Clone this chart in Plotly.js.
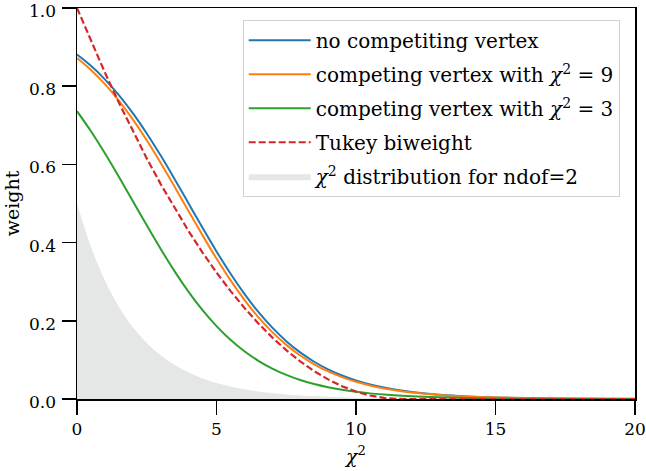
<!DOCTYPE html>
<html>
<head>
<meta charset="utf-8">
<script src="https://cdn.plot.ly/plotly-3.0.1.min.js"></script>
<style>html,body{margin:0;padding:0;background:#fff;}#chart{width:646px;height:471px;}</style>
</head>
<body>
<div id="chart"></div>
<script>
// chi^2 sample points
const chi2 = [0,0.5,1,1.5,2,2.5,3,3.5,4,4.5,5,5.5,6,6.5,7,7.5,8,8.5,9,9.5,10,10.5,11,11.5,12,13,14,15,16,17,18,19,20];
// no competing vertex
const wNoComp = [0.8808,0.8520,0.8176,0.7773,0.7311,0.6792,0.6225,0.5622,0.5000,0.4378,0.3775,0.3208,0.2689,0.2227,0.1824,0.1480,0.1192,0.0953,0.0759,0.0601,0.0474,0.0373,0.0293,0.0230,0.0180,0.0110,0.0067,0.0041,0.0025,0.0015,0.0009,0.00055,0.00034];
// competing vertex with chi2 = 9
const wComp9 = [0.8723,0.8417,0.8055,0.7633,0.7153,0.6618,0.6038,0.5427,0.4803,0.4185,0.3592,0.3039,0.2537,0.2094,0.1710,0.1384,0.1112,0.0888,0.0705,0.0558,0.0440,0.0346,0.0271,0.0213,0.0167,0.0102,0.0062,0.0038,0.0023,0.0014,0.00084,0.00051,0.00031];
// competing vertex with chi2 = 3
const wComp3 = [0.7361,0.6848,0.6285,0.5685,0.5065,0.4442,0.3837,0.3265,0.2741,0.2272,0.1863,0.1513,0.1220,0.0976,0.0777,0.0616,0.0486,0.0383,0.0301,0.0236,0.0185,0.0144,0.0113,0.0088,0.0069,0.0042,0.0025,0.0015,0.00094,0.00057,0.00034,0.00021,0.00013];
// Tukey biweight
const chi2Tukey = [0,0.5,1,1.5,2,2.5,3,3.5,4,4.5,5,5.5,6,6.5,7,7.5,8,8.5,9,9.5,10,10.5,11,11.5,11.6,12,20];
const wTukey = [1.0,0.9157,0.8350,0.7581,0.6849,0.6154,0.5496,0.4876,0.4293,0.3746,0.3237,0.2765,0.2331,0.1933,0.1573,0.1249,0.0963,0.0714,0.0502,0.0328,0.0190,0.0090,0.0027,0.0001,0,0,0];
// chi^2 distribution for ndof = 2
const pdfNdof2 = [0.5,0.3894,0.3033,0.2362,0.1839,0.1433,0.1116,0.0869,0.0677,0.0527,0.0410,0.0320,0.0249,0.0194,0.0151,0.0118,0.0092,0.0071,0.0056,0.0043,0.0034,0.0026,0.0020,0.0016,0.0012,0.00075,0.00046,0.00028,0.00017,0.0001,0.00006,0.00004,0.00002];

const xTicks = [0,5,10,15,20];
const yTicks = [0,0.2,0.4,0.6,0.8,1.0];
const yTickText = ['0.0','0.2','0.4','0.6','0.8','1.0'];

const FONT = 'DejaVu Serif, serif';

const traces = [
  {x: chi2, y: pdfNdof2, type:'scatter', mode:'lines', fill:'tozeroy', fillcolor:'#e5e6e6',
   line:{width:0, color:'#e5e6e6', shape:'spline'}, name:'<i>χ</i><sup>2</sup> distribution for ndof=2',
   legendrank:5, legendgroup:'g5'},
  {x: chi2, y: wNoComp, type:'scatter', mode:'lines', line:{color:'#1f77b4', width:2, shape:'spline'},
   name:'no competiting vertex', legendrank:1, legendgroup:'g1'},
  {x: chi2, y: wComp9, type:'scatter', mode:'lines', line:{color:'#ff7f0e', width:2, shape:'spline'},
   name:'competing vertex with <i>χ</i><sup>2</sup> = 9', legendrank:2, legendgroup:'g2'},
  {x: chi2, y: wComp3, type:'scatter', mode:'lines', line:{color:'#2ca02c', width:2, shape:'spline'},
   name:'competing vertex with <i>χ</i><sup>2</sup> = 3', legendrank:3, legendgroup:'g3'},
  {x: chi2Tukey, y: wTukey, type:'scatter', mode:'lines', line:{color:'#d62728', width:2.2, dash:'7px,3px', shape:'linear'},
   name:'Tukey biweight', legendrank:4, legendgroup:'g4'}
];

const axisCommon = {
  showline:true, linecolor:'#000', linewidth:1.5, mirror:true,
  ticks:'outside', ticklen:14, tickwidth:1.5, tickcolor:'#000',
  showgrid:false, zeroline:false, ticklabeloverflow:'allow',
  tickfont:{family:FONT, size:17, color:'#000'}
};

const layout = {
  width:646, height:471,
  margin:{l:77, r:11, t:8, b:72},
  paper_bgcolor:'#fff', plot_bgcolor:'#fff',
  font:{family:FONT, size:18, color:'#000'},
  showlegend:true,
  legend:{
    x:0.297, y:0.97, xanchor:'left', yanchor:'top',
    bgcolor:'rgba(255,255,255,0.85)', bordercolor:'#d0d0d0', borderwidth:1,
    font:{family:FONT, size:20, color:'#000'},
    traceorder:'grouped', tracegroupgap:5, itemwidth:62
  },
  xaxis: Object.assign({}, axisCommon, {
    range:[0,20], tickvals:xTicks, ticktext:xTicks.map(String),
    title:{text:'<i>χ</i><sup>2</sup>', font:{family:FONT, size:19, color:'#000'}, standoff:12}
  }),
  yaxis: Object.assign({}, axisCommon, {
    range:[0,1.0], tickvals:yTicks, ticktext:yTickText, ticklabelshift:3, ticklabelstandoff:2,
    title:{text:'weight', font:{family:FONT, size:19, color:'#000'}, standoff:4}
  })
};

Plotly.newPlot('chart', traces, layout, {displayModeBar:false, staticPlot:true});
</script>
</body>
</html>
